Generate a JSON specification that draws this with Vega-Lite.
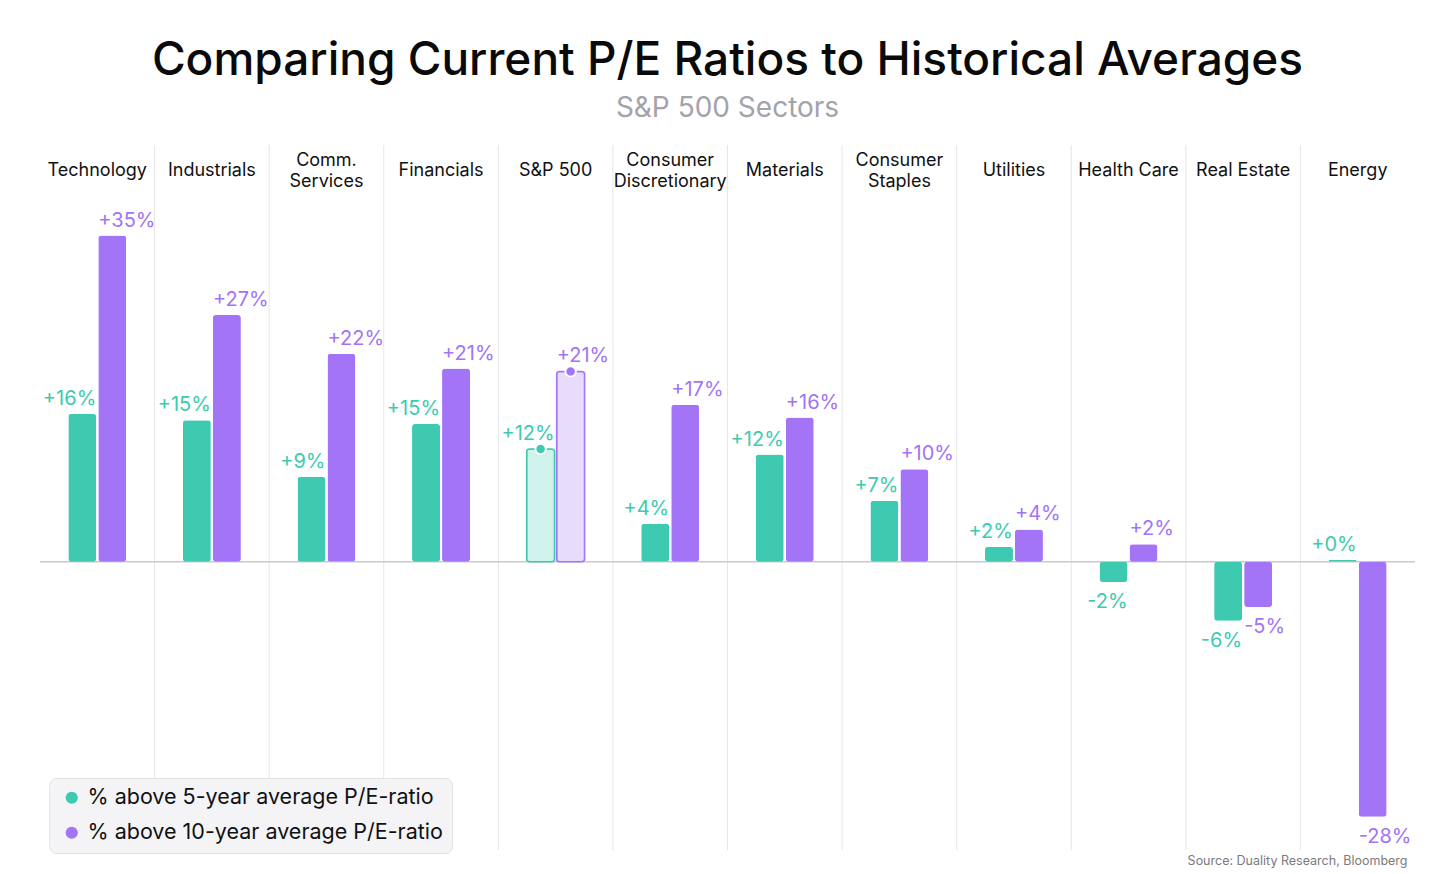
{
  "$schema": "https://vega.github.io/schema/vega-lite/v6.json",
  "width": 1375,
  "height": 705,
  "autosize": {"type": "none"},
  "padding": {"left": 40, "top": 145, "right": 41, "bottom": 24},
  "background": "white",
  "title": {
    "text": "Comparing Current P/E Ratios to Historical Averages",
    "subtitle": "S&P 500 Sectors",
    "anchor": "middle",
    "font": "Inter",
    "fontSize": 46,
    "fontWeight": 500,
    "color": "#0a0a0a",
    "subtitleFont": "Inter",
    "subtitleFontSize": 28,
    "subtitleFontWeight": 400,
    "subtitleColor": "#a3a3ab",
    "subtitlePadding": 10,
    "offset": 21
  },
  "config": {"view": {"stroke": null}, "font": "Inter"},
  "resolve": {"axis": {"x": "independent"}},
  "datasets": {
    "bars": [
      {"sector": "Technology", "series": "% above 5-year average P/E-ratio", "value": 16.0, "label": "+16%"},
      {"sector": "Technology", "series": "% above 10-year average P/E-ratio", "value": 35.3, "label": "+35%"},
      {"sector": "Industrials", "series": "% above 5-year average P/E-ratio", "value": 15.3, "label": "+15%"},
      {"sector": "Industrials", "series": "% above 10-year average P/E-ratio", "value": 26.7, "label": "+27%"},
      {"sector": "Comm. Services", "series": "% above 5-year average P/E-ratio", "value": 9.2, "label": "+9%"},
      {"sector": "Comm. Services", "series": "% above 10-year average P/E-ratio", "value": 22.5, "label": "+22%"},
      {"sector": "Financials", "series": "% above 5-year average P/E-ratio", "value": 14.9, "label": "+15%"},
      {"sector": "Financials", "series": "% above 10-year average P/E-ratio", "value": 20.9, "label": "+21%"},
      {"sector": "S&P 500", "series": "% above 5-year average P/E-ratio", "value": 12.2, "label": "+12%"},
      {"sector": "S&P 500", "series": "% above 10-year average P/E-ratio", "value": 20.6, "label": "+21%"},
      {"sector": "Consumer Discretionary", "series": "% above 5-year average P/E-ratio", "value": 4.1, "label": "+4%"},
      {"sector": "Consumer Discretionary", "series": "% above 10-year average P/E-ratio", "value": 17.0, "label": "+17%"},
      {"sector": "Materials", "series": "% above 5-year average P/E-ratio", "value": 11.6, "label": "+12%"},
      {"sector": "Materials", "series": "% above 10-year average P/E-ratio", "value": 15.6, "label": "+16%"},
      {"sector": "Consumer Staples", "series": "% above 5-year average P/E-ratio", "value": 6.6, "label": "+7%"},
      {"sector": "Consumer Staples", "series": "% above 10-year average P/E-ratio", "value": 10.0, "label": "+10%"},
      {"sector": "Utilities", "series": "% above 5-year average P/E-ratio", "value": 1.6, "label": "+2%"},
      {"sector": "Utilities", "series": "% above 10-year average P/E-ratio", "value": 3.5, "label": "+4%"},
      {"sector": "Health Care", "series": "% above 5-year average P/E-ratio", "value": -2.2, "label": "-2%"},
      {"sector": "Health Care", "series": "% above 10-year average P/E-ratio", "value": 1.9, "label": "+2%"},
      {"sector": "Real Estate", "series": "% above 5-year average P/E-ratio", "value": -6.4, "label": "-6%"},
      {"sector": "Real Estate", "series": "% above 10-year average P/E-ratio", "value": -4.9, "label": "-5%"},
      {"sector": "Energy", "series": "% above 5-year average P/E-ratio", "value": 0.2, "label": "+0%"},
      {"sector": "Energy", "series": "% above 10-year average P/E-ratio", "value": -27.6, "label": "-28%"}
    ],
    "dividers": [
      {"sector": "Industrials"}, {"sector": "Comm. Services"}, {"sector": "Financials"}, {"sector": "S&P 500"},
      {"sector": "Consumer Discretionary"}, {"sector": "Materials"}, {"sector": "Consumer Staples"}, {"sector": "Utilities"},
      {"sector": "Health Care"}, {"sector": "Real Estate"}, {"sector": "Energy"}
    ]
  },
  "layer": [
    {
      "data": {"name": "dividers"},
      "mark": {"type": "rule", "color": "#e6e6ea", "strokeWidth": 1},
      "encoding": {
        "x": {
          "field": "sector", "type": "nominal", "sort": null, "bandPosition": 0,
          "scale": {"domain": ["Technology", "Industrials", "Comm. Services", "Financials", "S&P 500", "Consumer Discretionary", "Materials", "Consumer Staples", "Utilities", "Health Care", "Real Estate", "Energy"], "paddingInner": 0, "paddingOuter": 0},
          "axis": {"orient": "bottom", "labels": false, "ticks": false, "domain": false, "grid": false, "title": "Source: Duality Research, Bloomberg", "titleFont": "Inter", "titleFontSize": 12.5, "titleFontWeight": 400, "titleColor": "#7a7a80", "titleAnchor": "end", "titleAlign": "right", "titleX": 1367, "titlePadding": 4}
        }
      }
    },
    {
      "data": {"values": [{"zero": 0}]},
      "mark": {"type": "rule", "color": "#c9c9d1", "strokeWidth": 1.5},
      "encoding": {
        "y": {"field": "zero", "type": "quantitative", "scale": {"domain": [-31.2, 45.1], "nice": false}, "axis": null}
      }
    },
    {
      "data": {"name": "bars"},
      "mark": {"type": "bar", "cornerRadius": 3},
      "encoding": {
        "x": {
          "field": "sector", "type": "nominal", "sort": null,
          "scale": {"domain": ["Technology", "Industrials", "Comm. Services", "Financials", "S&P 500", "Consumer Discretionary", "Materials", "Consumer Staples", "Utilities", "Health Care", "Real Estate", "Energy"], "paddingInner": 0, "paddingOuter": 0},
          "axis": {"orient": "top", "title": null, "domain": false, "ticks": false, "tickSize": 0, "grid": false, "labelAngle": 0, "labelFont": "Inter", "labelFontSize": 18, "labelColor": "#111111", "labelPadding": -25, "labelBaseline": "middle", "labelLimit": 0,
            "labelExpr": "indexof(['Comm. Services','Consumer Discretionary','Consumer Staples'], datum.label) >= 0 ? '' : datum.label"}
        },
        "xOffset": {"field": "series", "type": "nominal", "scale": {"domain": ["% above 5-year average P/E-ratio", "% above 10-year average P/E-ratio"], "paddingInner": 0.067, "paddingOuter": 0.943}},
        "y": {"field": "value", "type": "quantitative", "scale": {"domain": [-31.2, 45.1], "nice": false}, "axis": null},
        "color": {
          "field": "series", "type": "nominal",
          "scale": {"domain": ["% above 5-year average P/E-ratio", "% above 10-year average P/E-ratio"], "range": ["#3ecab0", "#a374f5"]},
          "legend": {"orient": "none", "legendX": 9, "legendY": 633, "title": null, "symbolType": "circle", "symbolSize": 150, "symbolStrokeWidth": 0, "symbolOpacity": 1, "symbolOffset": 3, "labelFont": "Inter", "labelFontSize": 21.5, "labelColor": "#111111", "fillColor": "#f4f4f7", "strokeColor": "#e3e3e8", "cornerRadius": 7, "padding": 9, "rowPadding": 12, "labelOffset": 5, "labelLimit": 600}
        },
        "stroke": {
          "field": "series", "type": "nominal",
          "scale": {"domain": ["% above 5-year average P/E-ratio", "% above 10-year average P/E-ratio"], "range": ["#3ecab0", "#a374f5"]},
          "legend": null
        },
        "fillOpacity": {"condition": {"test": "datum.sector === 'S&P 500'", "value": 0.25}, "value": 1},
        "strokeWidth": {"condition": {"test": "datum.sector === 'S&P 500'", "value": 1.5}, "value": 0}
      }
    },
    {
      "data": {"name": "bars"},
      "transform": [{"filter": "datum.sector === 'S&P 500'"}],
      "mark": {"type": "circle", "size": 110, "opacity": 1, "stroke": "white", "strokeWidth": 2},
      "encoding": {
        "x": {"field": "sector", "type": "nominal", "sort": null,
          "axis": {"orient": "top", "title": null, "domain": false, "ticks": false, "tickSize": 0, "grid": false, "labelAngle": 0, "labelFont": "Inter", "labelFontSize": 18, "labelColor": "#111111", "labelPadding": -15, "labelBaseline": "middle", "labelLineHeight": 21, "labelLimit": 0,
            "labelExpr": "indexof(['Comm. Services','Consumer Discretionary','Consumer Staples'], datum.label) >= 0 ? split(datum.label, ' ') : ''"}},
        "xOffset": {"field": "series", "type": "nominal", "scale": {"domain": ["% above 5-year average P/E-ratio", "% above 10-year average P/E-ratio"]}},
        "y": {"field": "value", "type": "quantitative", "axis": null},
        "color": {"field": "series", "type": "nominal"}
      }
    },
    {
      "data": {"name": "bars"},
      "transform": [{"filter": "datum.series === '% above 5-year average P/E-ratio' && datum.value >= 0"}],
      "mark": {"type": "text", "align": "right", "baseline": "alphabetic", "dx": 14, "dy": -9, "fontSize": 20, "font": "Inter"},
      "encoding": {
        "x": {"field": "sector", "type": "nominal", "sort": null, "axis": null},
        "xOffset": {"field": "series", "type": "nominal"},
        "y": {"field": "value", "type": "quantitative", "axis": null},
        "color": {"field": "series", "type": "nominal"},
        "text": {"field": "label"}
      }
    },
    {
      "data": {"name": "bars"},
      "transform": [{"filter": "datum.series === '% above 5-year average P/E-ratio' && datum.value < 0"}],
      "mark": {"type": "text", "align": "right", "baseline": "alphabetic", "dx": 14, "dy": 26, "fontSize": 20, "font": "Inter"},
      "encoding": {
        "x": {"field": "sector", "type": "nominal", "sort": null, "axis": null},
        "xOffset": {"field": "series", "type": "nominal"},
        "y": {"field": "value", "type": "quantitative", "axis": null},
        "color": {"field": "series", "type": "nominal"},
        "text": {"field": "label"}
      }
    },
    {
      "data": {"name": "bars"},
      "transform": [{"filter": "datum.series === '% above 10-year average P/E-ratio' && datum.value >= 0"}],
      "mark": {"type": "text", "align": "left", "baseline": "alphabetic", "dx": -14, "dy": -9, "fontSize": 20, "font": "Inter"},
      "encoding": {
        "x": {"field": "sector", "type": "nominal", "sort": null, "axis": null},
        "xOffset": {"field": "series", "type": "nominal"},
        "y": {"field": "value", "type": "quantitative", "axis": null},
        "color": {"field": "series", "type": "nominal"},
        "text": {"field": "label"}
      }
    },
    {
      "data": {"name": "bars"},
      "transform": [{"filter": "datum.series === '% above 10-year average P/E-ratio' && datum.value < 0"}],
      "mark": {"type": "text", "align": "left", "baseline": "alphabetic", "dx": -14, "dy": 26, "fontSize": 20, "font": "Inter"},
      "encoding": {
        "x": {"field": "sector", "type": "nominal", "sort": null, "axis": null},
        "xOffset": {"field": "series", "type": "nominal"},
        "y": {"field": "value", "type": "quantitative", "axis": null},
        "color": {"field": "series", "type": "nominal"},
        "text": {"field": "label"}
      }
    }
  ]
}
